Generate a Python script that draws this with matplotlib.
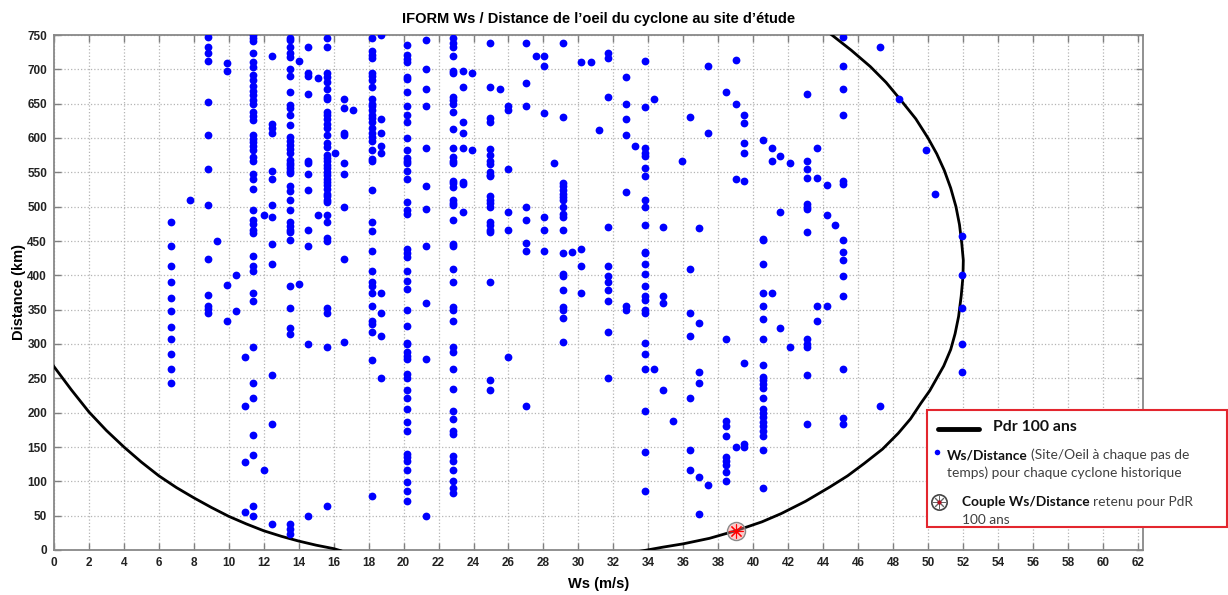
import matplotlib
matplotlib.use("Agg")
import matplotlib.pyplot as plt
from matplotlib.patches import Rectangle
from matplotlib.lines import Line2D
import numpy as np

# wind speed of each column of points (m/s)
ws_cols = [6.7, 7.8, 8.8, 9.35, 9.9, 10.4, 10.9, 11.4, 12.0, 12.5, 13.5, 14.0,
           14.55, 15.1, 15.6, 16.1, 16.6, 17.1, 18.2, 18.7, 20.2, 21.3, 22.85,
           23.4, 23.9, 24.95, 25.5, 26.0, 27.0, 27.55, 28.05, 28.6, 29.1, 29.65,
           30.15, 30.7, 31.2, 31.7, 32.75, 33.25, 33.8, 34.3, 34.85, 35.4, 35.9,
           36.4, 36.9, 37.4, 38.45, 39.0, 39.5, 40.55, 41.05, 41.55, 42.1, 43.1,
           43.65, 44.2, 44.7, 45.15, 47.25, 48.35, 49.9, 50.4, 51.95]

# distances (km) for each column above
dist_cols = [
    [477, 443, 413, 390, 367, 348, 325, 307, 285, 263, 243],
    [510],
    [747, 732, 724, 712, 652, 604, 555, 503, 424, 371, 356, 351, 345],
    [450],
    [709, 697, 386, 333],
    [401, 348],
    [281, 210, 128, 56],
    [750, 746, 741, 724, 710, 703, 692, 684, 676, 668, 662, 656, 650, 638, 632,
     626, 605, 599, 594, 588, 582, 572, 567, 547, 540, 526, 495, 480, 475, 466,
     461, 428, 413, 407, 375, 363, 296, 243, 221, 168, 139, 64, 49],
    [488, 116],
    [720, 621, 615, 608, 552, 540, 503, 485, 446, 416, 255, 183, 38],
    [746, 742, 732, 724, 718, 701, 690, 667, 648, 644, 634, 619, 601, 596, 590,
     584, 578, 568, 564, 560, 556, 552, 549, 530, 523, 510, 495, 478, 472, 466,
     463, 451, 384, 352, 323, 315, 38, 30, 23],
    [712, 387],
    [732, 695, 690, 664, 567, 563, 548, 525, 466, 443, 300, 49],
    [687, 488],
    [746, 732, 695, 689, 682, 671, 660, 657, 638, 634, 627, 621, 614, 604, 592,
     587, 575, 571, 567, 561, 556, 551, 546, 540, 536, 531, 526, 519, 515, 510,
     507, 488, 477, 454, 450, 352, 345, 296, 64],
    [578],
    [657, 644, 607, 604, 563, 548, 500, 424, 303],
    [641],
    [746, 726, 721, 716, 695, 690, 685, 675, 657, 650, 646, 641, 634, 629, 623,
     614, 607, 602, 595, 582, 570, 567, 525, 477, 465, 436, 406, 391, 384, 374,
     356, 334, 329, 318, 277, 79],
    [750, 628, 608, 589, 578, 374, 345, 311, 250],
    [735, 721, 715, 710, 689, 686, 667, 646, 633, 623, 600, 582, 571, 566, 563,
     552, 540, 507, 495, 490, 439, 433, 427, 407, 392, 380, 349, 326, 302, 300,
     289, 283, 278, 256, 250, 233, 221, 206, 187, 174, 140, 135, 129, 117, 99,
     86, 72],
    [743, 701, 671, 646, 585, 530, 496, 443, 360, 278, 49],
    [745, 739, 733, 719, 697, 694, 660, 656, 649, 638, 613, 585, 573, 566, 563,
     537, 534, 529, 510, 506, 503, 481, 445, 443, 409, 391, 354, 350, 333, 296,
     289, 264, 234, 203, 191, 174, 169, 137, 129, 117, 101, 91, 83],
    [698, 675, 623, 608, 585, 536, 533, 492],
    [694, 582],
    [739, 675, 629, 623, 584, 575, 566, 562, 551, 546, 544, 515, 510, 505, 500,
     478, 473, 466, 463, 391, 248, 233],
    [671],
    [646, 641, 555, 492, 466, 281],
    [739, 680, 646, 500, 481, 447, 436, 210],
    [720],
    [720, 705, 637, 485, 466, 436],
    [563],
    [739, 630, 535, 530, 525, 519, 514, 510, 500, 490, 485, 466, 432, 402, 399,
     379, 354, 349, 338, 303],
    [434],
    [710, 439, 414, 375],
    [710],
    [612],
    [724, 717, 660, 470, 414, 399, 391, 378, 363, 318, 250],
    [689, 649, 627, 604, 522, 356, 349],
    [589],
    [712, 645, 585, 578, 574, 556, 544, 510, 500, 473, 434, 432, 416, 402, 385,
     370, 364, 349, 345, 302, 285, 263, 203, 143, 86],
    [657, 263],
    [471, 370, 359, 233],
    [188],
    [567],
    [630, 409, 345, 311, 221, 146, 117],
    [469, 330, 259, 243, 106, 53],
    [705, 608, 95],
    [667, 307, 188, 181, 166, 135, 129, 124, 113, 101],
    [713, 649, 540, 150],
    [634, 622, 592, 578, 537, 273, 154, 150],
    [597, 453, 451, 416, 374, 355, 337, 307, 270, 252, 248, 242, 236, 221, 205,
     199, 193, 187, 181, 174, 166, 146, 90],
    [585, 567, 374],
    [574, 492, 323],
    [563, 296],
    [664, 567, 555, 542, 504, 499, 496, 463, 307, 300, 296, 255, 184],
    [585, 542, 356, 334],
    [531, 488, 356],
    [473],
    [747, 705, 672, 634, 537, 533, 451, 434, 423, 399, 370, 263, 192, 183],
    [732, 210],
    [657],
    [582],
    [518],
    [458, 401, 352, 300, 259],
]

# 100-year return period contour
contour_left_ws = [-0.5, 0, 0.5, 1, 1.5, 2, 3, 4, 5, 6, 7, 8, 9, 10, 11, 12, 13, 14,
                   15, 16, 16.4]
contour_left_dist = [285, 267, 250, 233, 217, 201, 174, 150, 128, 108, 91, 76, 62, 49,
                     38, 28, 20, 13, 7, 2, -1]
contour_right_ws = [33.5, 34.8, 36.0, 37.5, 39.0, 40.5, 41.6, 43.0, 44.4, 45.4, 46.35,
                    47.4, 48.3, 49.0, 49.6, 50.1, 50.5, 50.9, 51.3, 51.55, 51.75,
                    51.9, 52.0, 52.02, 51.93, 51.8, 51.6, 51.3, 50.93, 50.5, 50.0,
                    49.3, 48.45, 47.6, 46.7, 45.6, 44.5, 44.0]
contour_right_dist = [-2, 4, 9, 17, 28, 41, 53, 71, 92, 108, 126, 147, 170, 191, 214,
                      232, 250, 268, 292, 315, 340, 370, 398, 422, 447, 474, 500, 527,
                      553, 577, 600, 628, 655, 681, 704, 728, 750, 760]

# couple retained for the 100-year return period
ws_pdr = [39.0]
dist_pdr = [28]

ws = np.concatenate([[w] * len(d) for w, d in zip(ws_cols, dist_cols)])
dist = np.concatenate(dist_cols)

plt.rcParams['font.family'] = ['Liberation Sans', 'DejaVu Sans']
W, H = 1228, 595
fig = plt.figure(figsize=(W / 100, H / 100), dpi=100)
ax = fig.add_axes([54 / W, 1 - 550 / H, (1143 - 54) / W, (550 - 35) / H])

ax.plot(contour_left_ws, contour_left_dist, color='black', lw=2, zorder=3)
ax.plot(contour_right_ws, contour_right_dist, color='black', lw=2, zorder=3)
ax.plot(ws, dist, 'o', color='#0000ff', ms=5.6, mec='none', zorder=4)
ax.plot(ws_pdr, dist_pdr, 'o', ms=13, mfc=(1, 0.55, 0.55, 0.45), mec='#8a8a8a',
        mew=1, zorder=5)
ax.plot(ws_pdr, dist_pdr, marker=(8, 2, 0), ms=10, color='red', mew=0.8,
        ls='none', zorder=6)

ax.set_xlim(0, 62.3)
ax.set_ylim(0, 750)
ax.set_xticks(np.arange(0, 63, 2))
ax.set_yticks(np.arange(0, 751, 50))
ax.grid(True, ls=':', color='#b4b4b4', lw=0.9)
ax.set_axisbelow(True)
ax.tick_params(direction='in', top=True, right=True, length=5, width=1,
               color='#808080', labelsize=8.5, labelcolor='#222222', pad=5)
for lab in ax.get_xticklabels() + ax.get_yticklabels():
    lab.set_fontweight('bold')
for sp in ax.spines.values():
    sp.set_color('#888888')
    sp.set_linewidth(1.3)

ax.set_title("IFORM Ws / Distance de l\u2019oeil du cyclone au site d\u2019\u00e9tude",
             fontsize=10.5, fontweight='bold', pad=9)
ax.set_xlabel('Ws (m/s)', fontsize=10.5, fontweight='bold', labelpad=6)
ax.set_ylabel('Distance (km)', fontsize=10.5, fontweight='bold', labelpad=1)

# legend box drawn by hand
leg_font = ['Lato', 'DejaVu Sans']
fig.add_artist(Rectangle((927 / W, 1 - 527 / H), 300 / W, 117 / H,
                         transform=fig.transFigure, facecolor='white',
                         edgecolor='#e3262e', lw=1.5, zorder=10))
fig.add_artist(Line2D([938 / W, 979 / W], [1 - 429 / H] * 2, transform=fig.transFigure,
                      color='black', lw=3.5, solid_capstyle='round', zorder=11))
fig.text(993 / W, 1 - 427 / H, 'Pdr 100 ans', fontsize=11.3, fontweight='bold',
         va='center', family=leg_font, color='#111111', zorder=11)
fig.add_artist(Line2D([937 / W], [1 - 452 / H], transform=fig.transFigure, marker='o',
                      ms=4, color='#0000ff', mec='none', zorder=11))
fig.add_artist(Line2D([939 / W], [1 - 502 / H], transform=fig.transFigure, marker='o',
                      ms=11, mfc='white', mec='#444444', mew=1.2, zorder=11))
fig.add_artist(Line2D([939 / W], [1 - 502 / H], transform=fig.transFigure,
                      marker=(8, 2, 0), ms=9, color='#666666', mew=0.7, zorder=12))
fig.add_artist(Line2D([939 / W], [1 - 502 / H], transform=fig.transFigure, marker='o',
                      ms=3, color='#b01020', mec='none', zorder=13))

renderer = fig.canvas.get_renderer()


def run_text(x, y, parts):
    for s, weight, col in parts:
        t = fig.text(x, y, s, fontsize=9.9, fontweight=weight, color=col,
                     va='center', family=leg_font, zorder=11)
        bb = t.get_window_extent(renderer)
        x = bb.x1 / fig.bbox.width + 3 / W


run_text(947 / W, 1 - 455 / H, [('Ws/Distance', 'bold', '#111111'),
                                 ('(Site/Oeil \u00e0 chaque pas de', 'normal', '#404040')])
run_text(947 / W, 1 - 473 / H, [('temps) pour chaque cyclone historique', 'normal', '#404040')])
run_text(962 / W, 1 - 502 / H, [('Couple Ws/Distance', 'bold', '#111111'),
                                 ('retenu pour PdR', 'normal', '#404040')])
run_text(962 / W, 1 - 520 / H, [('100 ans', 'normal', '#404040')])

fig.savefig('out.png', dpi=100)
